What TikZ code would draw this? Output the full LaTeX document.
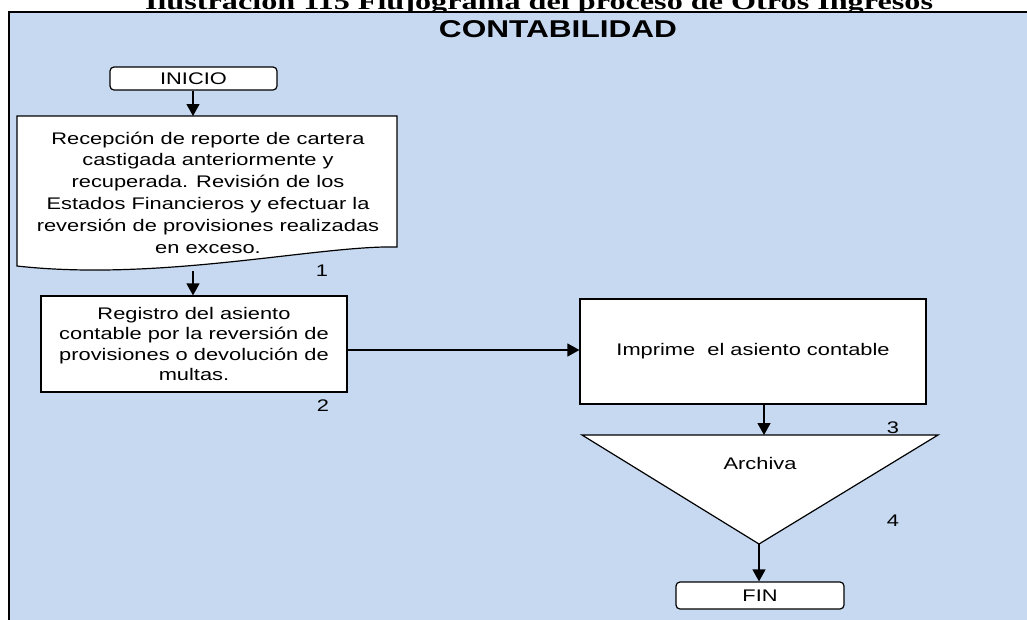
\documentclass[tikz,border=0pt]{standalone}
\usepackage{fontspec}
\setmainfont{Liberation Sans}[FakeStretch=1.3]
\newfontfamily\titlefont{Liberation Serif}[FakeStretch=1.4]
\usetikzlibrary{arrows.meta}
\definecolor{panelblue}{RGB}{198,217,241}

\begin{document}
\begin{tikzpicture}[x=1pt, y=-1pt,
  boxtext/.style={font=\fontsize{16.8}{21.8}\selectfont, align=center},
  procbox/.style={boxtext, draw, fill=white, line width=1.2pt, inner sep=0pt},
  termbox/.style={procbox, rounded corners=4pt},
  flow/.style={line width=1.2pt, -{Triangle[length=12pt,width=13pt]}},
  numlbl/.style={font=\fontsize{16.8}{18}\selectfont}]
  \useasboundingbox (0,0) rectangle (1027,619);
  \clip (0,0) rectangle (1027,619);
  % caption, cut off at the top
  \node[font=\titlefont\bfseries\fontsize{23}{26}\selectfont, anchor=base] (title) at (539,9.5)
    {Ilustración 115 Flujograma del proceso de Otros Ingresos};
  % swimlane
  \fill[panelblue] (9,12) rectangle (1040,630);
  \draw[line width=2.5pt] (9,630) -- (9,12) -- (1040,12);
  \node[font=\bfseries\fontsize{24.3}{26}\selectfont, anchor=base] (lane) at (558,37.5) {CONTABILIDAD};
  % start
  \node[termbox, minimum width=167pt, minimum height=23pt] (ini) at (193.5,78.5) {INICIO};
  % document shape
  \coordinate (doctop) at (193,116);
  \coordinate (docbot) at (193,271);
  \filldraw[fill=white, line width=1.2pt] (17,116) -- (397,116) -- (397,247)
    .. controls (320,245) and (160,282) .. (17,266) -- cycle;
  \node[boxtext] (doc) at (208,192.5) {Recepción de reporte de cartera\\castigada anteriormente y\\recuperada. Revisión de los\\Estados Financieros y efectuar la\\reversión de provisiones realizadas\\en exceso.};
  \node[numlbl] (n1) at (322,271) {1};
  % steps 2 and 3
  \node[procbox, minimum width=306pt, minimum height=96pt, font=\fontsize{16.8}{20.5}\selectfont] (reg) at (194,344)
    {Registro del asiento\\contable por la reversión de\\provisiones o devolución de\\multas.};
  \node[numlbl] (n2) at (323,406) {2};
  \node[procbox, minimum width=346pt, minimum height=105pt] (imp) at (753,351.5) {Imprime~ el asiento contable};
  % archive triangle
  \coordinate (archtop) at (764,435);
  \coordinate (archapex) at (759,544);
  \filldraw[fill=white, line width=1.2pt] (582,435) -- (938,435) -- (archapex) -- cycle;
  \node[boxtext] (arch) at (760,463) {Archiva};
  \node[numlbl] (n3) at (893,428) {3};
  \node[numlbl] (n4) at (893,521) {4};
  % end
  \node[termbox, minimum width=168pt, minimum height=27pt] (fin) at (760,595.5) {FIN};
  % connectors
  \draw[flow] (ini.south -| doctop) -- (doctop);
  \draw[flow] (docbot) -- (docbot |- reg.north);
  \draw[flow] (reg.east |- 0,350) -- (imp.west |- 0,350);
  \draw[flow] (imp.south -| archtop) -- (archtop);
  \draw[flow] (archapex) -- (archapex |- fin.north);
\end{tikzpicture}
\end{document}
